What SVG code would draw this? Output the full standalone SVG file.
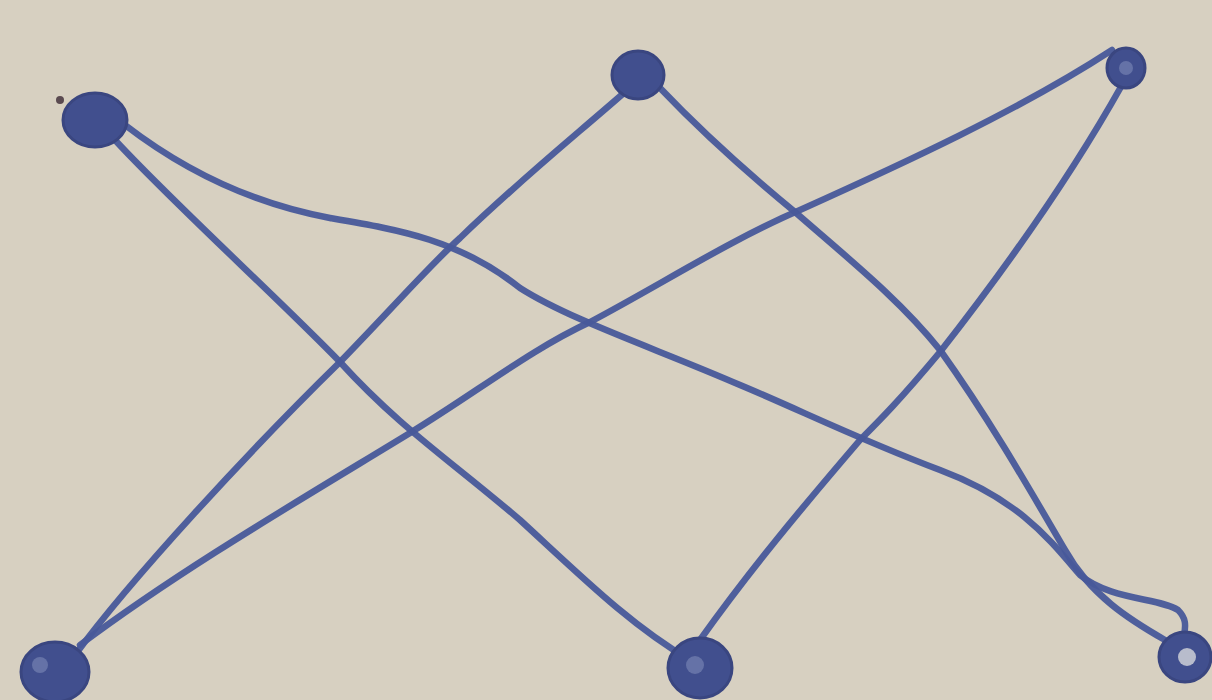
<svg xmlns="http://www.w3.org/2000/svg" width="1212" height="700" viewBox="0 0 1212 700">
<style>
.edge{fill:none;stroke:#48599a;stroke-width:6.5;stroke-linecap:round;stroke-linejoin:round;opacity:0.95}
.node{fill:#414f8e;stroke:#3a4680;stroke-width:3}
.hl{fill:#8a96c0;opacity:0.5}
</style>
<rect width="1212" height="700" fill="#d7d0c1"/>
<g id="connectors">
<path class="edge" d="M115,140 C170,200 280,300 340,362 C400,428 450,460 520,520 C580,575 630,625 690,660"/>
<path class="edge" d="M125,125 C190,175 260,205 330,218 C400,230 460,240 520,288 C570,320 660,350 740,385 C800,410 860,440 940,470 C1020,500 1050,540 1080,575 C1110,600 1160,598 1178,610 C1186,618 1186,625 1184,635"/>
<path class="edge" d="M75,655 C130,580 250,450 340,362 C400,300 430,265 460,238 C520,180 570,140 625,92"/>
<path class="edge" d="M80,645 C180,570 300,500 410,433 C480,390 530,350 590,322 C660,285 730,240 800,210 C900,165 1020,110 1112,50"/>
<path class="edge" d="M660,88 C700,130 750,175 795,212 C850,260 900,300 940,350 C990,420 1030,490 1065,550 C1090,595 1130,620 1165,640"/>
<path class="edge" d="M1122,85 C1080,160 1020,250 940,352 C900,400 880,420 860,440 C800,510 750,570 700,640"/>
</g>
<g id="node-a"><ellipse class="node" cx="95" cy="120" rx="32" ry="27"/><circle cx="60" cy="100" r="4" fill="#5a4a50"/></g>
<g id="node-b"><ellipse class="node" cx="638" cy="75" rx="26" ry="24"/></g>
<g id="node-c"><ellipse class="node" cx="1126" cy="68" rx="19" ry="20"/><circle class="hl" cx="1126" cy="68" r="7"/></g>
<g id="node-d"><ellipse class="node" cx="55" cy="672" rx="34" ry="30"/><circle class="hl" cx="40" cy="665" r="8"/></g>
<g id="node-e"><ellipse class="node" cx="700" cy="668" rx="32" ry="30"/><circle class="hl" cx="695" cy="665" r="9"/></g>
<g id="node-f"><ellipse class="node" cx="1185" cy="657" rx="26" ry="25"/><circle cx="1187" cy="657" r="9" fill="#b8bccc"/></g>
</svg>
